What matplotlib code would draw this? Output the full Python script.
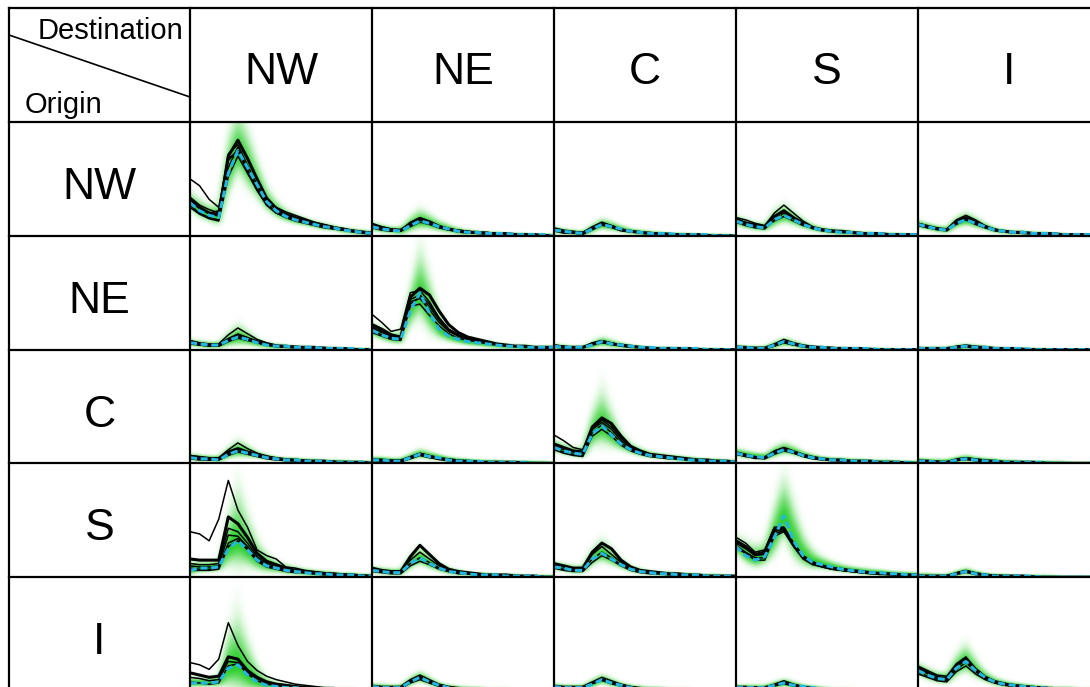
import numpy as np
import matplotlib
matplotlib.use("Agg")
import matplotlib.pyplot as plt
from matplotlib.lines import Line2D

# ---------------- data ----------------
regions = ["NW", "NE", "C", "S", "I"]
ages = [0, 5, 10, 15, 20, 25, 30, 35, 40, 45, 50, 55, 60, 65, 70, 75, 80, 85, 90, 95]

# values in % of panel height (shared scale)
NW_NW_med = [29,22,18,16,55,75,60,45,30,22,17,14,12,10,8,7,5,4,3,2]
NW_NW_hi  = [40,33,28,30,95,120,100,70,45,32,24,19,16,13,11,9,7,6,5,4]
NW_NW_obs = [[50,44,32,25,68,74,58,42,30,25,21,18,15,12,10,8,6,5,4,3],
             [32,25,20,18,70,84,68,50,33,24,19,16,13,11,9,7,6,4,3,2],
             [30,24,20,22,72,80,62,45,30,23,18,15,13,11,9,7,5,4,3,2],
             [27,20,16,14,60,78,58,42,28,21,17,14,12,10,8,6,5,4,3,2],
             [25,19,15,13,52,70,55,40,27,20,16,13,11,9,7,6,5,4,3,2],
             [34,27,23,20,66,76,56,40,27,20,17,16,14,11,9,7,5,4,3,2]]

NW_NE_med = [8,6,5,4,9,13,11,8,6,4,3,3,2,2,2,1,1,1,1,0]
NW_NE_hi  = [12,10,8,8,18,26,20,14,10,7,5,4,3,3,2,2,2,1,1,1]
NW_NE_obs = [[10,8,6,5,12,16,13,9,6,5,4,3,3,2,2,1,1,1,1,0],
             [9,7,5,5,10,15,12,8,6,4,3,3,2,2,2,1,1,1,0,0],
             [7,5,4,4,8,12,10,7,5,4,3,2,2,2,1,1,1,1,0,0],
             [11,8,6,5,11,14,11,8,6,5,4,3,3,2,2,1,1,1,1,0]]

NW_C_med = [5,4,3,2,6,10,8,6,4,3,2,2,2,1,1,1,1,0,0,0]
NW_C_hi  = [8,6,5,4,10,16,13,9,6,5,4,3,2,2,2,1,1,1,1,0]
NW_C_obs = [[6,4,3,3,8,12,9,6,4,3,3,2,2,1,1,1,1,0,0,0],
            [5,3,3,2,6,10,8,5,4,3,2,2,1,1,1,1,0,0,0,0],
            [7,5,4,3,7,11,9,6,4,3,2,2,2,1,1,1,1,0,0,0]]

NW_S_med = [13,10,8,7,14,18,14,10,7,5,4,3,3,2,2,2,1,1,1,1]
NW_S_hi  = [18,15,12,11,24,30,22,15,10,7,6,5,4,3,3,2,2,2,1,1]
NW_S_obs = [[16,14,11,9,20,27,20,13,8,6,5,4,3,3,2,2,1,1,1,1],
            [14,11,9,8,17,22,16,11,7,5,4,4,3,2,2,2,1,1,1,1],
            [12,9,7,6,14,20,15,10,7,5,4,3,3,2,2,1,1,1,1,0],
            [15,12,10,8,13,17,13,9,7,5,4,3,3,2,2,1,1,1,1,0]]

NW_I_med = [10,8,6,5,11,14,11,8,5,4,3,3,2,2,2,1,1,1,1,0]
NW_I_hi  = [14,11,9,8,17,22,17,11,7,5,4,4,3,3,2,2,1,1,1,1]
NW_I_obs = [[11,9,7,6,14,18,14,9,6,4,3,3,2,2,2,1,1,1,1,0],
            [10,8,6,5,12,16,12,8,5,4,3,3,2,2,2,1,1,1,1,0],
            [9,7,6,5,10,14,10,7,5,4,3,2,2,2,1,1,1,1,0,0]]

NE_NW_med = [6,5,4,4,8,11,9,6,4,3,3,2,2,2,1,1,1,1,0,0]
NE_NW_hi  = [9,8,7,7,16,25,18,10,6,5,4,3,3,2,2,2,1,1,1,1]
NE_NW_obs = [[8,6,5,5,13,19,14,9,6,4,3,3,2,2,2,1,1,1,0,0],
             [7,5,4,4,9,13,10,7,5,3,3,2,2,2,1,1,1,0,0,0],
             [6,4,4,3,8,11,9,6,4,3,2,2,2,1,1,1,1,0,0,0],
             [5,4,3,3,7,10,8,6,4,3,2,2,2,1,1,1,0,0,0,0]]

NE_NE_med = [17,13,10,9,34,50,32,18,12,9,7,6,5,4,3,3,2,2,2,2]
NE_NE_hi  = [25,20,16,16,60,100,70,35,20,14,11,9,8,6,5,4,4,3,3,3]
NE_NE_obs = [[31,24,16,18,50,52,42,28,18,13,10,8,6,5,4,3,3,2,2,2],
             [22,18,13,11,46,54,48,34,22,15,11,9,7,5,4,3,3,2,2,2],
             [19,15,11,10,44,48,40,28,18,13,10,8,6,5,4,3,3,2,2,1],
             [17,13,10,9,42,45,35,24,16,12,9,7,6,5,4,3,2,2,2,1],
             [15,12,9,8,38,40,30,21,14,10,8,7,5,4,3,3,2,2,1,1],
             [20,16,12,10,40,46,38,26,17,12,9,8,6,5,4,3,3,2,2,1]]

NE_C_med = [3,2,2,2,4,7,5,4,3,2,2,1,1,1,1,1,0,0,0,0]
NE_C_hi  = [5,4,3,3,7,12,9,6,4,3,2,2,2,1,1,1,1,1,0,0]
NE_C_obs = [[4,3,2,2,6,8,6,4,3,2,2,1,1,1,1,1,0,0,0,0],
            [3,2,2,2,5,7,5,4,3,2,1,1,1,1,1,0,0,0,0,0],
            [4,3,2,2,4,6,5,3,2,2,1,1,1,1,1,0,0,0,0,0]]

NE_S_med = [2,2,1,1,4,7,5,3,2,2,1,1,1,1,1,0,0,0,0,0]
NE_S_hi  = [4,3,3,3,7,11,8,5,3,2,2,2,1,1,1,1,1,0,0,0]
NE_S_obs = [[3,2,2,2,5,9,6,4,3,2,2,1,1,1,1,0,0,0,0,0],
            [2,2,1,1,4,7,5,3,2,2,1,1,1,1,0,0,0,0,0,0],
            [2,1,1,1,3,6,4,3,2,1,1,1,1,0,0,0,0,0,0,0]]

NE_I_med = [1,1,1,1,2,3,2,2,1,1,1,1,0,0,0,0,0,0,0,0]
NE_I_hi  = [2,2,2,2,4,5,4,3,2,1,1,1,1,1,0,0,0,0,0,0]
NE_I_obs = [[2,1,1,1,3,4,3,2,1,1,1,1,0,0,0,0,0,0,0,0],
            [1,1,1,1,2,3,2,2,1,1,1,0,0,0,0,0,0,0,0,0]]

C_NW_med = [5,4,4,3,8,11,9,7,5,4,3,3,2,2,2,1,1,1,1,0]
C_NW_hi  = [8,7,6,6,14,22,16,10,7,5,4,4,3,3,2,2,2,1,1,1]
C_NW_obs = [[7,6,5,5,12,18,13,9,6,5,4,3,3,2,2,2,1,1,1,0],
            [6,5,4,4,10,13,10,8,6,4,3,3,2,2,2,1,1,1,1,0],
            [5,4,3,3,8,11,9,7,5,4,3,3,2,2,1,1,1,1,0,0],
            [4,3,3,3,7,10,8,6,4,3,3,2,2,2,1,1,1,0,0,0]]

C_NE_med = [3,3,2,2,5,8,6,5,3,2,2,2,1,1,1,1,1,0,0,0]
C_NE_hi  = [5,5,4,4,8,13,10,7,5,4,3,2,2,2,1,1,1,1,1,0]
C_NE_obs = [[4,3,3,3,6,9,7,5,4,3,2,2,1,1,1,1,1,0,0,0],
            [3,3,2,2,5,8,6,4,3,2,2,1,1,1,1,1,0,0,0,0],
            [3,2,2,2,4,7,5,4,3,2,2,1,1,1,1,0,0,0,0,0]]

C_C_med = [14,11,9,8,26,33,25,17,12,9,7,6,5,4,3,3,2,2,2,1]
C_C_hi  = [21,17,14,14,50,73,50,28,18,13,10,8,7,6,5,4,3,3,2,2]
C_C_obs = [[25,20,14,12,30,36,30,20,13,10,8,7,6,5,4,3,3,2,2,1],
           [17,14,11,10,32,40,35,24,15,11,8,7,6,5,4,3,3,2,2,1],
           [15,12,10,9,30,38,32,22,14,10,8,7,5,4,4,3,2,2,2,1],
           [13,10,8,7,27,34,27,18,12,9,7,6,5,4,3,3,2,2,1,1],
           [12,9,7,6,24,30,24,16,11,8,6,5,4,4,3,2,2,2,1,1]]

C_S_med = [9,7,6,5,9,12,10,7,5,4,3,3,2,2,2,1,1,1,1,0]
C_S_hi  = [13,11,9,8,15,19,15,10,7,5,4,4,3,3,2,2,2,1,1,1]
C_S_obs = [[10,8,6,5,11,14,11,8,6,4,3,3,2,2,2,1,1,1,1,0],
           [9,7,5,5,10,13,10,7,5,4,3,3,2,2,2,1,1,1,0,0],
           [8,6,5,4,8,11,9,6,4,3,3,2,2,2,1,1,1,1,0,0]]

C_I_med = [2,2,1,1,3,4,3,2,2,1,1,1,1,1,0,0,0,0,0,0]
C_I_hi  = [4,3,3,3,5,7,5,4,3,2,2,1,1,1,1,1,0,0,0,0]
C_I_obs = [[3,2,2,1,4,5,4,3,2,1,1,1,1,1,0,0,0,0,0,0],
           [2,2,1,1,3,4,3,2,2,1,1,1,1,0,0,0,0,0,0,0]]

S_NW_med = [6,8,8,9,25,32,24,15,10,8,6,5,4,3,3,2,2,2,1,1]
S_NW_hi  = [14,14,14,15,60,90,60,35,22,15,11,9,7,6,5,4,3,3,2,2]
S_NW_obs = [[40,38,32,51,85,59,44,24,19,16,9,8,6,5,4,3,3,2,2,1],
            [16,15,15,15,53,47,35,21,14,11,8,6,5,4,3,3,2,2,1,1],
            [12,11,11,12,43,40,30,18,12,9,7,5,4,4,3,2,2,2,1,1],
            [10,9,9,10,37,36,27,16,11,8,6,5,4,3,3,2,2,1,1,1],
            [8,7,7,8,30,34,25,15,10,8,6,5,4,3,3,2,2,1,1,1],
            [6,6,6,7,27,32,24,14,9,7,5,4,4,3,2,2,2,1,1,1]]

S_NE_med = [6,5,4,4,12,17,12,8,5,4,3,2,2,2,1,1,1,1,0,0]
S_NE_hi  = [9,8,7,7,20,28,20,12,8,6,4,3,3,2,2,2,1,1,1,1]
S_NE_obs = [[7,6,5,4,15,22,16,10,6,4,3,3,2,2,1,1,1,1,0,0],
            [8,6,5,5,18,28,20,12,7,5,4,3,2,2,2,1,1,1,0,0],
            [6,5,4,4,12,17,13,8,5,4,3,2,2,2,1,1,1,0,0,0],
            [5,4,3,3,10,14,11,7,5,3,3,2,2,1,1,1,1,0,0,0]]

S_C_med = [9,8,6,6,16,21,16,11,7,5,4,3,3,2,2,2,1,1,1,1]
S_C_hi  = [13,12,10,10,26,36,26,16,10,7,5,4,4,3,3,2,2,2,1,1]
S_C_obs = [[11,9,7,7,20,27,20,13,8,6,4,4,3,2,2,2,1,1,1,0],
           [12,10,8,8,22,30,25,15,9,6,5,4,3,3,2,2,1,1,1,1],
           [9,7,6,6,16,22,17,11,7,5,4,3,3,2,2,1,1,1,1,0],
           [8,6,5,5,13,19,15,10,6,4,3,3,2,2,2,1,1,1,0,0]]

S_S_med = [27,19,15,18,35,54,32,19,13,11,9,7,6,5,4,4,3,3,2,2]
S_S_hi  = [38,33,30,32,70,97,70,40,25,18,14,11,9,8,7,6,5,4,4,3]
S_S_obs = [[35,30,22,24,44,44,30,19,13,10,8,7,6,5,4,4,3,3,2,2],
           [32,27,20,22,42,43,29,18,13,10,8,7,6,5,4,3,3,2,2,2],
           [30,25,19,20,40,42,28,18,12,10,8,6,5,5,4,3,3,2,2,2],
           [28,22,17,17,38,41,28,17,12,9,7,6,5,4,4,3,3,2,2,1],
           [26,21,15,15,36,40,27,16,11,9,7,6,5,4,3,3,2,2,2,1]]

S_I_med = [1,1,1,1,3,5,3,2,1,1,1,1,1,0,0,0,0,0,0,0]
S_I_hi  = [3,3,2,2,5,8,5,3,2,2,1,1,1,1,1,0,0,0,0,0]
S_I_obs = [[2,1,1,1,4,6,4,2,2,1,1,1,1,0,0,0,0,0,0,0],
           [1,1,1,1,3,5,3,2,1,1,1,1,0,0,0,0,0,0,0,0]]

I_NW_med = [7,7,7,8,20,23,14,8,5,4,3,3,2,2,2,1,1,1,1,1]
I_NW_hi  = [12,12,12,14,60,80,50,25,12,8,6,5,4,3,3,2,2,2,1,1]
I_NW_obs = [[25,23,19,28,60,40,26,18,13,10,8,6,5,4,3,3,2,2,1,1],
            [16,14,12,13,30,28,18,12,8,6,5,4,3,3,2,2,2,1,1,1],
            [12,11,9,10,26,25,16,11,7,5,4,3,3,2,2,2,1,1,1,1],
            [8,7,6,7,22,24,15,9,6,5,4,3,3,2,2,1,1,1,1,0]]

I_NE_med = [4,3,3,3,8,12,8,5,3,2,2,2,1,1,1,1,1,0,0,0]
I_NE_hi  = [6,6,5,5,12,18,12,7,5,4,3,3,2,2,2,1,1,1,1,0]
I_NE_obs = [[5,4,4,4,10,14,10,6,4,3,2,2,2,1,1,1,1,0,0,0],
            [4,3,3,3,9,12,8,5,3,2,2,2,1,1,1,1,0,0,0,0],
            [3,3,2,2,7,10,7,4,3,2,2,1,1,1,1,0,0,0,0,0]]

I_C_med = [4,3,3,3,6,10,7,5,3,2,2,2,1,1,1,1,1,0,0,0]
I_C_hi  = [6,5,5,5,10,15,11,7,5,4,3,3,2,2,2,1,1,1,1,0]
I_C_obs = [[5,4,4,4,8,12,9,6,4,3,2,2,2,1,1,1,1,0,0,0],
           [4,3,3,3,7,10,7,5,3,2,2,2,1,1,1,1,0,0,0,0]]

I_S_med = [3,3,3,3,5,7,5,4,3,2,2,1,1,1,1,1,0,0,0,0]
I_S_hi  = [5,5,5,5,8,11,8,5,4,3,2,2,2,1,1,1,1,0,0,0]
I_S_obs = [[4,4,3,3,6,9,6,4,3,2,2,1,1,1,1,1,0,0,0,0],
           [3,3,3,3,5,7,5,3,2,2,1,1,1,1,1,0,0,0,0,0]]

I_I_med = [18,14,11,10,20,26,18,12,8,6,5,4,3,3,2,2,2,1,1,1]
I_I_hi  = [25,21,17,17,34,45,30,18,12,9,7,6,5,4,3,3,3,2,2,2]
I_I_obs = [[22,18,14,13,24,30,20,13,9,7,5,4,4,3,3,2,2,1,1,1],
           [20,16,12,11,22,28,19,12,8,6,5,4,3,3,2,2,2,1,1,1],
           [17,13,10,9,19,25,17,11,8,6,4,4,3,3,2,2,1,1,1,1],
           [15,12,9,8,17,22,15,10,7,5,4,3,3,2,2,2,1,1,1,0]]

panels = {}
for o in regions:
    for d in regions:
        key = f"{o}_{d}"
        panels[(o, d)] = (globals()[key + "_med"], globals()[key + "_hi"], globals()[key + "_obs"])

# ---------------- layout ----------------
W, H = 1090, 687
fig = plt.figure(figsize=(W / 100, H / 100), dpi=100)
fig.patch.set_facecolor("white")

def fx(px):
    return px / W

def fy(py):
    return 1 - py / H

X_LEFT, Y_TOP = 9, 8
COL0 = 190          # right edge of header column
ROW0 = 122          # bottom edge of header row
CW, CH = 182, 113.8

GREEN_RGB = (0.12, 0.80, 0.12)
CYAN = "#22b8e2"
x = np.arange(len(ages))

NX, NY = 364, 228
xs = np.linspace(0, len(ages) - 1, NX)
ys = np.linspace(0, 100, NY)
kern = np.exp(-0.5 * (np.arange(-14, 15) / 6.0) ** 2)
kern /= kern.sum()

def fan_image(med, hi):
    m = np.interp(xs, x, med)
    u = np.interp(xs, x, np.asarray(hi, float) - np.asarray(med, float)) + 1.5
    dn = 0.45 * u + 2.0
    Y = ys[:, None]
    t = np.where(Y >= m, (Y - m) / u, (m - Y) / dn)
    inten = np.exp(-2.6 * t ** 2)
    # soft horizontal blur
    pad = np.pad(inten, ((0, 0), (14, 14)), mode="edge")
    blurred = np.array([np.convolve(row, kern, mode="valid") for row in pad])
    rgba = np.zeros((NY, NX, 4))
    rgba[..., 0] = GREEN_RGB[0]
    rgba[..., 1] = GREEN_RGB[1]
    rgba[..., 2] = GREEN_RGB[2]
    rgba[..., 3] = np.clip(blurred * 0.95, 0, 1)
    return rgba

for r, o in enumerate(regions):
    for c, d in enumerate(regions):
        med, hi, obs = panels[(o, d)]
        left = COL0 + CW * c
        top = ROW0 + CH * r
        ax = fig.add_axes([fx(left), fy(top + CH), CW / W, CH / H])
        ax.imshow(fan_image(med, hi), extent=(0, len(ages) - 1, 0, 100),
                  origin="lower", aspect="auto", interpolation="bilinear", zorder=1)
        for i, line in enumerate(obs):
            ax.plot(x, line, color="black", lw=2.2 if i == 1 else 1.1, zorder=2)
        ax.plot(x, med, color=CYAN, lw=2.2, dashes=(2.3, 1.2), zorder=3)
        ax.set_xlim(0, len(ages) - 1)
        ax.set_ylim(0, 100)
        ax.axis("off")

# grid lines
LW = 1.6
for i in range(6):
    xv = COL0 + CW * i
    fig.add_artist(Line2D([fx(xv), fx(xv)], [fy(Y_TOP), fy(H + 5)],
                          transform=fig.transFigure, color="black", lw=LW))
fig.add_artist(Line2D([fx(X_LEFT), fx(X_LEFT)], [fy(Y_TOP), fy(H + 5)],
                      transform=fig.transFigure, color="black", lw=LW))
for j in range(6):
    yv = ROW0 + CH * j
    fig.add_artist(Line2D([fx(X_LEFT), fx(W + 5)], [fy(yv), fy(yv)],
                          transform=fig.transFigure, color="black", lw=LW))
fig.add_artist(Line2D([fx(X_LEFT), fx(W + 5)], [fy(Y_TOP), fy(Y_TOP)],
                      transform=fig.transFigure, color="black", lw=LW))

# corner cell
fig.add_artist(Line2D([fx(X_LEFT), fx(COL0)], [fy(35), fy(97)],
                      transform=fig.transFigure, color="black", lw=1.2))
FONT = "Liberation Sans"
fig.text(fx(183), fy(39), "Destination", ha="right", va="baseline",
         fontsize=21, family=FONT)
fig.text(fx(25), fy(113), "Origin", ha="left", va="baseline",
         fontsize=21, family=FONT)

for c, d in enumerate(regions):
    fig.text(fx(COL0 + CW * (c + 0.5)), fy(Y_TOP + 76), d,
             ha="center", va="baseline", fontsize=32, family=FONT)
for r, o in enumerate(regions):
    fig.text(fx((X_LEFT + COL0) / 2), fy(ROW0 + CH * r + 77), o,
             ha="center", va="baseline", fontsize=32, family=FONT)

fig.savefig("out.png", dpi=100, facecolor="white")
